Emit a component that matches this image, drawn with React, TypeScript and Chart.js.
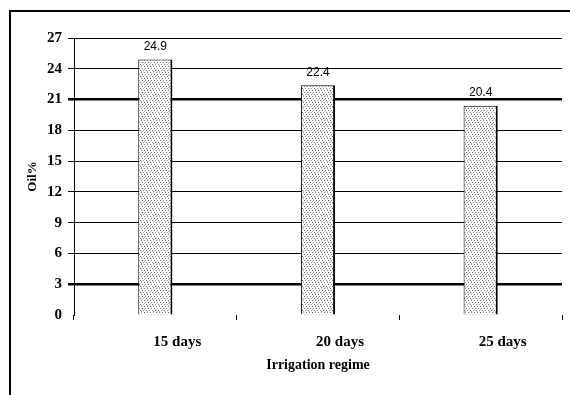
import React, { useEffect, useRef } from "react";
import { Chart, registerables } from "chart.js";

Chart.register(...registerables);

const categories: string[] = ["15 days", "20 days", "25 days"];
const oilPercent: number[] = [24.9, 22.4, 20.4];
const yTicks: number[] = [0, 3, 6, 9, 12, 15, 18, 21, 24, 27];
const heavyGridValues: number[] = [21, 3];
const xTitle = "Irrigation regime";
const yTitle = "Oil%";

const serif = "'Liberation Serif', 'Times New Roman', serif";

function makeDotPattern(): CanvasPattern | string {
  const tile = document.createElement("canvas");
  tile.width = 6;
  tile.height = 6;
  const c = tile.getContext("2d");
  if (!c) return "#d8d8d8";
  c.fillStyle = "#ffffff";
  c.fillRect(0, 0, 6, 6);
  const dots: [number, number, string][] = [
    [0, 0, "#6a6a6a"],
    [3, 0, "#a0a0a0"],
    [1, 2, "#8a8a8a"],
    [4, 2, "#5e5e5e"],
    [2, 4, "#6e6e6e"],
    [5, 4, "#9a9a9a"],
    [0, 3, "#c0c0c0"],
    [3, 5, "#b8b8b8"],
  ];
  dots.forEach(([x, y, col]) => {
    c.fillStyle = col;
    c.fillRect(x, y, 1, 1);
  });
  return c.createPattern(tile, "repeat") || "#d8d8d8";
}

// White page with the outer frame on the left and top edges
const framePlugin = {
  id: "frame",
  beforeDraw(chart: any) {
    const ctx = chart.ctx;
    ctx.save();
    ctx.fillStyle = "#ffffff";
    ctx.fillRect(0, 0, chart.width, chart.height);
    ctx.strokeStyle = "#000000";
    ctx.lineWidth = 2;
    ctx.beginPath();
    ctx.moveTo(10, chart.height);
    ctx.lineTo(10, 11);
    ctx.lineTo(chart.width, 11);
    ctx.stroke();
    ctx.restore();
  },
};

// Value printed above each bar
const valueLabelPlugin = {
  id: "valueLabels",
  afterDatasetsDraw(chart: any) {
    const ctx = chart.ctx;
    const meta = chart.getDatasetMeta(0);
    const data = chart.data.datasets[0].data as number[];
    ctx.save();
    ctx.font = "12px 'Liberation Sans', Arial, sans-serif";
    ctx.fillStyle = "#000000";
    ctx.textAlign = "center";
    ctx.textBaseline = "middle";
    meta.data.forEach((el: any, i: number) => {
      ctx.fillText(data[i].toFixed(1), el.x, el.y - 13);
    });
    ctx.restore();
  },
};

export default function App() {
  const canvasRef = useRef<HTMLCanvasElement | null>(null);

  useEffect(() => {
    const canvas = canvasRef.current;
    if (!canvas) return;
    const chart = new Chart(canvas, {
      type: "bar",
      data: {
        labels: categories,
        datasets: [
          {
            data: oilPercent,
            backgroundColor: makeDotPattern() as any,
            borderColor: "#000000",
            borderWidth: { top: 1, left: 1, right: 2, bottom: 0 },
            borderSkipped: "bottom",
            categoryPercentage: 1,
            barPercentage: 0.21,
          },
        ],
      },
      options: {
        responsive: false,
        animation: false,
        devicePixelRatio: 1,
        layout: { padding: { top: 38, left: 10, right: 8, bottom: 0 } },
        plugins: {
          legend: { display: false },
          tooltip: { enabled: false },
        },
        scales: {
          x: {
            offset: true,
            afterFit: (scale: any) => {
              scale.height = 80;
            },
            grid: {
              offset: true,
              drawOnChartArea: false,
              drawTicks: true,
              tickLength: 5,
              color: "#000000",
              lineWidth: 1,
            },
            border: { display: false },
            ticks: {
              color: "#000000",
              padding: 13,
              labelOffset: 22,
              font: { family: serif, size: 15, weight: "bold" },
            },
            title: {
              display: true,
              text: xTitle,
              color: "#000000",
              align: "center",
              padding: { top: 0, bottom: 21 },
              font: { family: serif, size: 14, weight: "bold" },
            },
          },
          y: {
            min: 0,
            max: 27,
            afterFit: (scale: any) => {
              scale.width = 64;
            },
            afterBuildTicks: (scale: any) => {
              scale.ticks = yTicks.map((v) => ({ value: v }));
            },
            grid: {
              color: (c: any) => (c.tick && c.tick.value === 0 ? "rgba(0,0,0,0)" : "#000000"),
              lineWidth: (c: any) => (c.tick && heavyGridValues.includes(c.tick.value) ? 2.5 : 1),
              tickLength: 6,
            },
            border: { display: true, color: "#000000", width: 1 },
            ticks: {
              color: "#000000",
              padding: 6,
              font: { family: serif, size: 15, weight: "bold" },
            },
            title: {
              display: true,
              text: yTitle,
              color: "#000000",
              padding: { top: 15, bottom: 0 },
              font: { family: serif, size: 13, weight: "bold" },
            },
          },
        },
      },
      plugins: [framePlugin, valueLabelPlugin],
    });
    return () => chart.destroy();
  }, []);

  return (
    <div style={{ position: "fixed", left: 0, top: 0, width: 570, height: 395, background: "#ffffff" }}>
      <canvas ref={canvasRef} width={570} height={395} style={{ display: "block" }} />
    </div>
  );
}
